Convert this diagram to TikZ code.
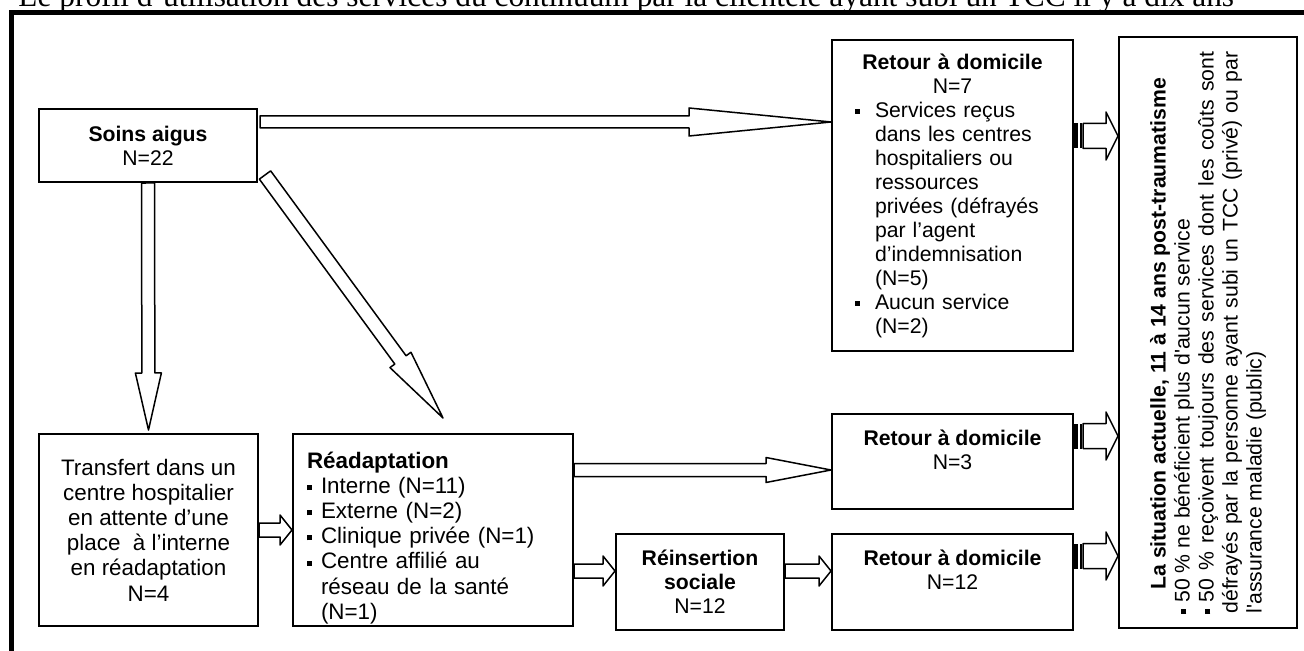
\documentclass[tikz,border=0pt]{standalone}
\usepackage{fontspec}
\setmainfont{Liberation Sans}
\newfontfamily\titlefont{Liberation Serif}
\usetikzlibrary{calc}

% small square bullet, item box of width #1
\newcommand{\sqbullet}{\rule[1.6pt]{2.5pt}{2.5pt}}
\newcommand{\itm}[1]{\makebox[#1][l]{\sqbullet}}
\newcommand{\rline}[1]{\makebox[97.5pt][l]{#1}}

\begin{document}
\begin{tikzpicture}[
  x=0.5pt, y=-0.5pt,
  font=\fontsize{10.6}{12}\selectfont,
  box/.style={draw, line width=1pt, inner sep=0pt, align=center},
  roomy/.style={font=\fontsize{11.2}{12.6}\selectfont},
  hollow/.style args={#1/#2/#3}{draw, fill=white, line width=0.75pt, line join=round,
    to path={let \p1=($(\tikztotarget)-(\tikztostart)$), \n1={atan2(\y1,\x1)}, \n2={veclen(\x1,\y1)} in
      ($(\tikztostart)+(\n1+90:#1)$) -- ++(\n1:{\n2-#3}) -- ++(\n1+90:{#2-#1}) -- (\tikztotarget)
      -- ($(\tikztostart)+(\n1:{\n2-#3})+(\n1-90:#2)$) -- ++(\n1+90:{#2-#1})
      -- ($(\tikztostart)+(\n1-90:#1)$) -- cycle}},
  fat/.style={hollow={6.25pt/12pt/6pt}}]

  \useasboundingbox (0,0) rectangle (1304,651);

  % title (cut by the page) and frame
  \node[anchor=base west, inner sep=0pt, font=\titlefont\fontsize{15.7}{18}\selectfont] (title) at (18,6.5)
    {Le profil d’utilisation des services du continuum par la clientèle ayant subi un TCC il y a dix ans};
  \draw[line width=2.5pt] (1304,12.5) -- (11.5,12.5) -- (11.5,651);

  % boxes
  \node[box, anchor=north west, minimum width=109pt, minimum height=36.5pt] (soins) at (38,108)
    {\textbf{Soins aigus}\\N=22};
  \node[box, roomy, anchor=north west, minimum width=109.5pt, minimum height=96pt] (transfert) at (38,433)
    {Transfert dans un\\centre hospitalier\\en attente d’une\\place~ à l’interne\\en réadaptation\\N=4};
  \node[box, roomy, anchor=north west, minimum width=140pt, minimum height=96pt, text width=126pt, align=left] (readapt) at (292,433)
    {\mbox{}\\[3.4pt]
     \textbf{Réadaptation}\\
     \itm{7pt}Interne (N=11)\\
     \itm{7pt}Externe (N=2)\\
     \itm{7pt}Clinique privée (N=1)\\
     \itm{7pt}Centre affilié au\\
     \hspace*{7pt}réseau de la santé\\
     \hspace*{7pt}(N=1)};
  \node[box, anchor=north west, minimum width=84pt, minimum height=48pt] (reins) at (615,533)
    {\textbf{Réinsertion}\\\textbf{sociale}\\N=12};
  \node[box, anchor=north west, minimum width=120.5pt, minimum height=155.5pt, text width=97.5pt] (retour1) at (831,39)
    {\textbf{Retour à domicile}\\N=7\\
     \rline{\itm{10pt}Services reçus}\\
     \rline{\hspace*{10pt}dans les centres}\\
     \rline{\hspace*{10pt}hospitaliers ou}\\
     \rline{\hspace*{10pt}ressources}\\
     \rline{\hspace*{10pt}privées (défrayés}\\
     \rline{\hspace*{10pt}par l’agent}\\
     \rline{\hspace*{10pt}d’indemnisation}\\
     \rline{\hspace*{10pt}(N=5)}\\
     \rline{\itm{10pt}Aucun service}\\
     \rline{\hspace*{10pt}(N=2)}};
  \node[box, anchor=north west, minimum width=120.5pt, minimum height=47.5pt] (retour2) at (831,413)
    {\textbf{Retour à domicile}\\N=3\\\mbox{}};
  \node[box, anchor=north west, minimum width=120.5pt, minimum height=48pt] (retour3) at (831,533)
    {\textbf{Retour à domicile}\\N=12\\\mbox{}};
  \node[box, rotate=90, minimum width=295.5pt, minimum height=89pt, text width=281pt, align=justify] (situation) at (1208,332.5)
    {\noindent\hspace*{12pt}\textbf{La situation actuelle, 11 à 14 ans post-traumatisme}\par
     \noindent\itm{5.5pt}50~\% ne bénéficient plus d\textquotesingle aucun service\par
     \hangindent=5.5pt\hangafter=1
     \noindent\itm{5.5pt}50~\% reçoivent toujours des services dont les coûts sont\linebreak
     défrayés par la personne ayant subi un TCC (privé) ou par\linebreak
     l\textquotesingle assurance maladie (public)};

  % end points of the arrows
  \coordinate (a1) at ($(soins.north east)+(2,14)$);
  \coordinate (b1) at ($(retour1.north west)+(0,83)$);
  \coordinate (a2) at (soins.south);
  \coordinate (b2) at ($(transfert.north)+(0,-3)$);
  \coordinate (a3) at ($(soins.south east)+(7,-8)$);
  \coordinate (b3) at ($(readapt.north west)+(151,-15)$);
  \coordinate (a4) at ($(readapt.north east)+(0,37)$);
  \coordinate (b4) at (a4 -| retour2.west);
  \coordinate (b5) at ($(reins.west)+(0,-11)$);
  \coordinate (a5) at (b5 -| readapt.east);
  \coordinate (a6) at ($(reins.east)+(0,-11)$);
  \coordinate (b6) at (a6 -| retour3.west);

  \draw[hollow={3pt/7pt/71pt}] (a1) to (b1);
  \draw[hollow={3.25pt/6.5pt/28.5pt}] (a2) to (b2);
  \draw[hollow={3.5pt/6.5pt/36pt}] (a3) to (b3);
  \draw[hollow={3.25pt/6.25pt/32.5pt}] (a4) to (b4);
  \draw[hollow={3.5pt/7.5pt/6pt}] (transfert.east) to (readapt.west);
  \draw[hollow={3.5pt/7.5pt/6pt}] (a5) to (b5);
  \draw[hollow={3.5pt/7.5pt/6pt}] (a6) to (b6);

  % striped arrows into the last box
  \foreach \src/\dy in {retour1/97, retour2/23, retour3/23} {
    \coordinate (t\src) at ($(\src.north east)+(0,\dy)$);
    \coordinate (u\src) at ($(t\src)+(9,0)$);
    \coordinate (h\src) at (t\src -| situation.north);
    \fill ($(t\src)+(0,-12.5)$) rectangle ($(t\src)+(4,12.5)$);
    \fill ($(t\src)+(5.5,-12.5)$) rectangle ($(t\src)+(7.5,12.5)$);
    \draw[fat] (u\src) to (h\src);
  }
\end{tikzpicture}
\end{document}
